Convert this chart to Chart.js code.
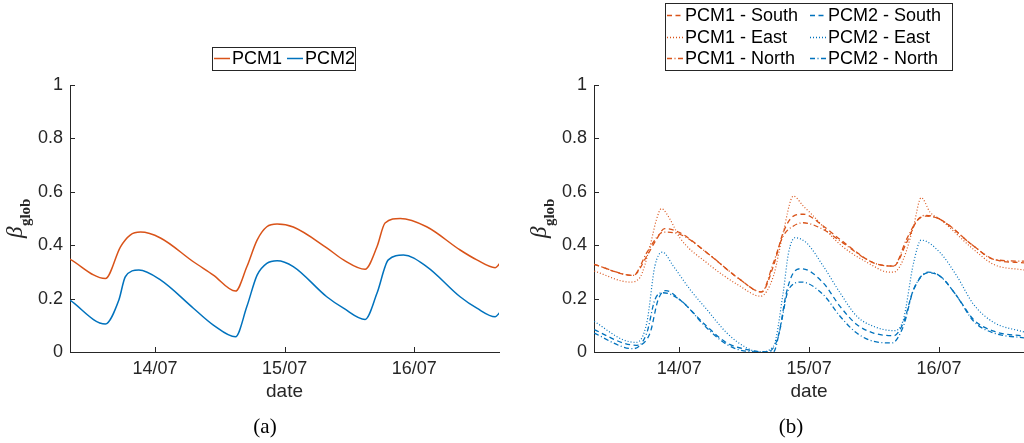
<!DOCTYPE html>
<html>
<head>
<meta charset="utf-8">
<script src="https://cdn.jsdelivr.net/npm/chart.js@4.4.1/dist/chart.umd.min.js"></script>
<style>
html, body { margin: 0; padding: 0; background: #fff; }
#wrap { position: relative; width: 1024px; height: 443px; overflow: hidden; }
canvas { position: absolute; top: 0; }
#chartA { left: 0; }
#chartB { left: 512px; }
</style>
</head>
<body>
<div id="wrap">
  <canvas id="chartA" width="512" height="443"></canvas>
  <canvas id="chartB" width="512" height="443"></canvas>
</div>
<script>
// hours counted from 14/07 00:00
const tickHours = [0, 24, 48];
const tickLabels = ['14/07', '15/07', '16/07'];

// (a) overall
const pcm1Hours = [-15.8, -9.2, -6.4, -4.6, -2.7, 1.0, 7.1, 10.8, 14.9, 17.0, 18.9, 20.7, 22.6, 25.6, 31.8, 34.9, 38.9, 41.1, 42.6, 45.4, 50.3, 56.5, 59.6, 63.0, 63.8];
const pcm1Values = [0.348, 0.275, 0.394, 0.438, 0.449, 0.427, 0.338, 0.288, 0.228, 0.319, 0.419, 0.469, 0.479, 0.468, 0.390, 0.345, 0.310, 0.394, 0.483, 0.500, 0.469, 0.382, 0.345, 0.316, 0.330];
const pcm2Hours = [-15.8, -9.2, -6.7, -5.5, -3.0, 1.0, 7.1, 10.8, 14.9, 17.0, 18.9, 20.7, 22.6, 25.6, 31.8, 34.9, 38.9, 41.1, 43.2, 46.0, 50.3, 56.5, 59.6, 63.0, 63.8];
const pcm2Values = [0.195, 0.105, 0.195, 0.282, 0.307, 0.270, 0.164, 0.101, 0.057, 0.170, 0.288, 0.332, 0.342, 0.320, 0.207, 0.164, 0.122, 0.220, 0.345, 0.363, 0.320, 0.207, 0.164, 0.132, 0.147];

// (b) per orientation
const pcm1SouthHours = [-15.7, -8.5, -6.0, -4.2, -2.7, 0.1, 5.1, 11.2, 15.2, 17.4, 19.2, 21.1, 22.9, 26.6, 29.7, 35.9, 39.6, 42.0, 43.9, 45.7, 48.2, 54.4, 58.1, 63.7];
const pcm1SouthValues = [0.328, 0.287, 0.359, 0.422, 0.462, 0.447, 0.372, 0.272, 0.225, 0.322, 0.447, 0.509, 0.516, 0.472, 0.422, 0.334, 0.322, 0.409, 0.491, 0.509, 0.497, 0.397, 0.347, 0.334];
const pcm1EastHours = [-15.7, -9.1, -7.3, -5.4, -4.2, -3.3, -1.7, 0.1, 5.1, 11.2, 15.0, 17.4, 19.2, 21.1, 22.9, 24.8, 29.7, 35.9, 38.3, 39.6, 41.4, 43.3, 44.7, 46.4, 48.2, 54.4, 58.1, 63.7];
const pcm1EastValues = [0.303, 0.262, 0.278, 0.397, 0.497, 0.537, 0.497, 0.428, 0.334, 0.247, 0.209, 0.284, 0.447, 0.584, 0.547, 0.509, 0.403, 0.322, 0.300, 0.299, 0.347, 0.472, 0.578, 0.522, 0.497, 0.384, 0.328, 0.307];
const pcm1NorthHours = [-15.7, -8.5, -6.0, -4.2, -3.0, 0.1, 5.1, 11.2, 15.2, 17.4, 19.2, 21.1, 22.9, 26.6, 29.7, 35.9, 39.6, 42.0, 43.9, 45.4, 48.2, 54.4, 58.1, 63.7];
const pcm1NorthValues = [0.328, 0.287, 0.372, 0.428, 0.449, 0.441, 0.372, 0.272, 0.225, 0.334, 0.434, 0.472, 0.484, 0.459, 0.416, 0.334, 0.322, 0.422, 0.491, 0.512, 0.497, 0.397, 0.347, 0.340];

const pcm2SouthHours = [-15.7, -10.4, -7.9, -5.4, -3.9, -2.5, 0.1, 5.1, 8.8, 12.5, 16.2, 18.3, 19.8, 21.1, 22.6, 26.6, 29.7, 32.8, 35.9, 39.6, 41.4, 43.3, 46.0, 48.2, 51.3, 54.4, 58.1, 63.7];
const pcm2SouthValues = [0.084, 0.034, 0.025, 0.071, 0.196, 0.230, 0.196, 0.096, 0.034, 0.009, 0.000, 0.059, 0.222, 0.297, 0.312, 0.259, 0.171, 0.103, 0.071, 0.061, 0.109, 0.234, 0.297, 0.284, 0.209, 0.121, 0.078, 0.059];
const pcm2EastHours = [-15.7, -10.4, -7.9, -6.0, -4.5, -3.1, -1.1, 2.0, 5.1, 8.8, 12.5, 14.9, 17.4, 19.2, 20.2, 21.4, 23.5, 26.6, 29.7, 32.8, 35.9, 39.6, 41.4, 43.3, 44.7, 48.2, 51.3, 54.4, 58.1, 63.7];
const pcm2EastValues = [0.115, 0.046, 0.036, 0.109, 0.322, 0.374, 0.322, 0.234, 0.159, 0.071, 0.015, 0.000, 0.021, 0.222, 0.372, 0.428, 0.409, 0.322, 0.222, 0.134, 0.096, 0.080, 0.121, 0.334, 0.419, 0.372, 0.284, 0.178, 0.111, 0.075];
const pcm2NorthHours = [-15.7, -10.4, -8.5, -6.0, -4.5, -3.0, 0.1, 5.1, 8.8, 12.5, 17.4, 18.6, 20.2, 22.6, 26.6, 29.7, 32.8, 35.9, 39.3, 41.4, 43.3, 46.0, 48.2, 51.3, 54.4, 58.1, 63.7];
const pcm2NorthValues = [0.071, 0.019, 0.0125, 0.071, 0.196, 0.222, 0.196, 0.090, 0.028, 0.003, 0.000, 0.084, 0.234, 0.262, 0.215, 0.134, 0.071, 0.040, 0.034, 0.096, 0.234, 0.299, 0.284, 0.209, 0.115, 0.071, 0.053];

const ORANGE = '#D95319';
const BLUE = '#0072BD';
const AXIS = '#262626';
const SANS = '"Liberation Sans", Arial, Helvetica, sans-serif';
const SERIF = '"Liberation Serif", "DejaVu Serif", serif';
const DASH = { solid: [], dashed: [5, 3.5], dotted: [1, 2], dashdot: [5, 2.5, 1, 2.5] };

function pairs(hours, values) {
    return hours.map((h, i) => ({ x: h, y: values[i] }));
}

function line(label, hours, values, color, style, width) {
    return {
        label: label,
        data: pairs(hours, values),
        borderColor: color,
        backgroundColor: color,
        borderWidth: width,
        borderDash: DASH[style],
        pointRadius: 0,
        cubicInterpolationMode: 'monotone',
        fill: false
    };
}

// inward ticks, y label, legend box and panel letter
const decor = {
    id: 'decor',
    afterDraw(chart, args, opts) {
        const ctx = chart.ctx;
        const area = chart.chartArea;
        const xs = chart.scales.x, ys = chart.scales.y;
        ctx.save();

        ctx.strokeStyle = AXIS;
        ctx.lineWidth = 1;
        ctx.setLineDash([]);
        ctx.beginPath();
        ys.ticks.forEach(t => {
            const y = Math.round(ys.getPixelForValue(t.value)) + 0.5;
            ctx.moveTo(area.left, y);
            ctx.lineTo(area.left + 5, y);
        });
        xs.ticks.forEach(t => {
            const x = Math.round(xs.getPixelForValue(t.value)) + 0.5;
            ctx.moveTo(x, area.bottom);
            ctx.lineTo(x, area.bottom - 5);
        });
        ctx.stroke();

        // beta_glob
        ctx.save();
        ctx.fillStyle = AXIS;
        ctx.translate(area.left - 48, 238);
        ctx.rotate(-Math.PI / 2);
        ctx.textBaseline = 'alphabetic';
        ctx.textAlign = 'left';
        ctx.font = 'italic 23px ' + SERIF;
        ctx.fillText('β', 0, 0);
        const bw = ctx.measureText('β').width;
        ctx.font = 'bold 15px ' + SERIF;
        ctx.fillText('glob', bw + 0.5, 8);
        ctx.restore();

        // legend
        const lg = opts.legend;
        ctx.fillStyle = '#fff';
        ctx.fillRect(lg.x, lg.y, lg.w, lg.h);
        ctx.strokeStyle = AXIS;
        ctx.lineWidth = 1;
        ctx.strokeRect(lg.x, lg.y, lg.w, lg.h);
        ctx.font = '18px ' + SANS;
        ctx.textBaseline = 'middle';
        chart.data.datasets.forEach((ds, i) => {
            const p = lg.items[i];
            ctx.strokeStyle = ds.borderColor;
            ctx.lineWidth = 1.5;
            ctx.setLineDash(ds.borderDash || []);
            ctx.beginPath();
            ctx.moveTo(p[0], p[1]);
            ctx.lineTo(p[0] + 16, p[1]);
            ctx.stroke();
            ctx.setLineDash([]);
            ctx.fillStyle = '#000';
            ctx.fillText(ds.label, p[0] + 18, p[1] + 1);
        });

        // panel letter
        ctx.fillStyle = '#000';
        ctx.font = '21px ' + SERIF;
        ctx.textAlign = 'center';
        ctx.textBaseline = 'middle';
        ctx.fillText(opts.letter, opts.letterX, 427);

        ctx.restore();
    }
};

function makeChart(canvasId, datasets, yWidth, rightPad, decorOpts) {
    return new Chart(document.getElementById(canvasId), {
        type: 'line',
        data: { datasets: datasets },
        plugins: [decor],
        options: {
            responsive: false,
            animation: false,
            events: [],
            layout: { padding: { left: 0, top: 85, right: rightPad, bottom: 36 } },
            plugins: {
                legend: { display: false },
                tooltip: { enabled: false },
                decor: decorOpts
            },
            scales: {
                x: {
                    type: 'linear',
                    min: -15.75,
                    max: 63.7,
                    afterBuildTicks: s => { s.ticks = tickHours.map(v => ({ value: v })); },
                    afterFit: s => { s.height = 55; },
                    ticks: {
                        callback: v => tickLabels[tickHours.indexOf(v)],
                        font: { family: SANS, size: 18 },
                        color: AXIS,
                        padding: 6,
                        maxRotation: 0,
                        autoSkip: false
                    },
                    grid: { display: false, drawTicks: false },
                    border: { display: true, color: AXIS, width: 1 },
                    title: {
                        display: true,
                        text: 'date',
                        font: { family: SANS, size: 19 },
                        color: AXIS,
                        padding: { top: 0, bottom: 4 }
                    }
                },
                y: {
                    min: 0,
                    max: 1,
                    afterFit: s => { s.width = yWidth; },
                    ticks: {
                        stepSize: 0.2,
                        callback: v => String(Number(v.toFixed(1))),
                        font: { family: SANS, size: 18 },
                        color: AXIS,
                        padding: 7
                    },
                    grid: { display: false, drawTicks: false },
                    border: { display: true, color: AXIS, width: 1 }
                }
            }
        }
    });
}

makeChart('chartA', [
    line('PCM1', pcm1Hours, pcm1Values, ORANGE, 'solid', 1.5),
    line('PCM2', pcm2Hours, pcm2Values, BLUE, 'solid', 1.5)
], 70, 13, {
    legend: { x: 212.5, y: 47.5, w: 143, h: 23, items: [[214, 58.5], [287, 58.5]] },
    letter: '(a)',
    letterX: 265
});

makeChart('chartB', [
    line('PCM1 - South', pcm1SouthHours, pcm1SouthValues, ORANGE, 'dashed', 1.3),
    line('PCM1 - East', pcm1EastHours, pcm1EastValues, ORANGE, 'dotted', 1.2),
    line('PCM1 - North', pcm1NorthHours, pcm1NorthValues, ORANGE, 'dashdot', 1.3),
    line('PCM2 - South', pcm2SouthHours, pcm2SouthValues, BLUE, 'dashed', 1.3),
    line('PCM2 - East', pcm2EastHours, pcm2EastValues, BLUE, 'dotted', 1.2),
    line('PCM2 - North', pcm2NorthHours, pcm2NorthValues, BLUE, 'dashdot', 1.3)
], 82, 0, {
    legend: {
        x: 153.5, y: 3.5, w: 287, h: 67,
        items: [[155, 15.5], [155, 37.5], [155, 58.5], [298, 15.5], [298, 37.5], [298, 58.5]]
    },
    letter: '(b)',
    letterX: 279
});
</script>
</body>
</html>
